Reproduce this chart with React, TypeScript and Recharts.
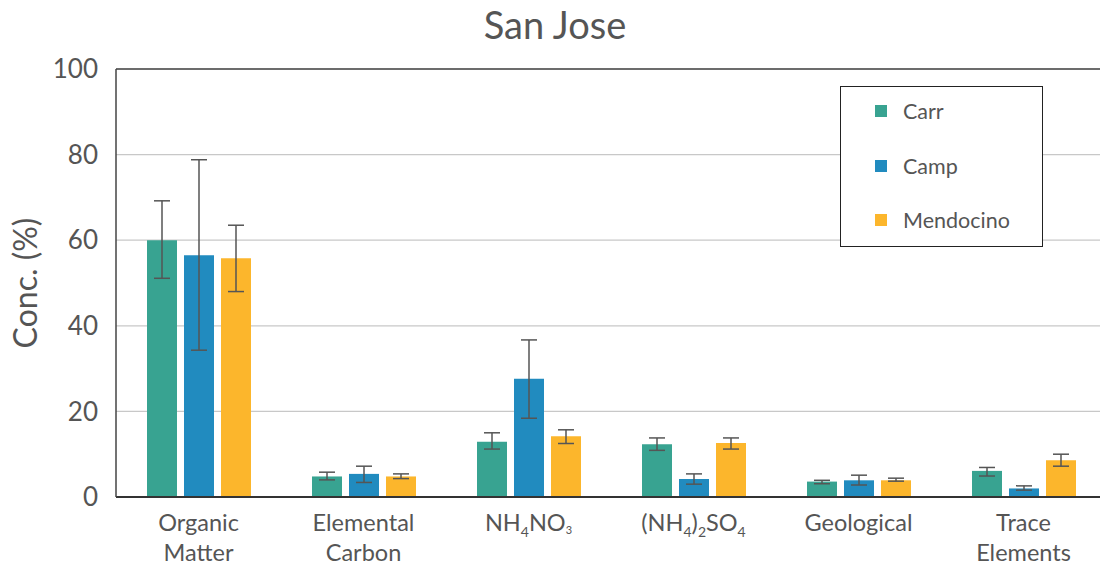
import { BarChart, Bar, XAxis, YAxis, CartesianGrid, ErrorBar, ReferenceLine } from 'recharts';

// categories (subscripts handled in the tick renderer)
const categories = ['Organic Matter', 'Elemental Carbon', 'NH4NO3', '(NH4)2SO4', 'Geological', 'Trace Elements'];

// bar heights
const carr = [60.0, 4.8, 12.9, 12.3, 3.6, 6.1];
const camp = [56.5, 5.4, 27.6, 4.2, 3.9, 2.0];
const mendocino = [55.8, 4.8, 14.2, 12.6, 3.9, 8.6];

// error bar ends (low, high)
const carrLow = [51.1, 4.0, 11.2, 10.9, 3.1, 4.9];
const carrHigh = [69.2, 5.8, 15.0, 13.8, 3.9, 6.9];
const campLow = [34.3, 3.4, 18.4, 3.0, 2.8, 1.6];
const campHigh = [78.8, 7.2, 36.7, 5.4, 5.1, 2.6];
const mendLow = [48.0, 4.3, 12.5, 11.2, 3.7, 7.2];
const mendHigh = [63.5, 5.4, 15.7, 13.8, 4.4, 10.0];

const yTicks = [0, 20, 40, 60, 80, 100];

const seriesNames = ['Carr', 'Camp', 'Mendocino'];
const COLORS = ['#38a391', '#218bbf', '#fcb62c'];
const TEXT = '#555555';
const FONT = 'Lato, "Open Sans", sans-serif';

const data = categories.map((name, i) => ({
  name,
  carr: carr[i],
  camp: camp[i],
  mend: mendocino[i],
  carrErr: [carr[i] - carrLow[i], carrHigh[i] - carr[i]],
  campErr: [camp[i] - campLow[i], campHigh[i] - camp[i]],
  mendErr: [mendocino[i] - mendLow[i], mendHigh[i] - mendocino[i]],
}));

// x tick with two lines / chemical subscripts
const XTick = ({ x, y, payload }: any) => {
  const v = payload.value;
  const common = { textAnchor: 'middle' as const, fill: TEXT, fontSize: 23.5, fontFamily: FONT };
  const ty = y + 26;
  if (v === 'NH4NO3') {
    return (
      <text x={x} y={ty} {...common}>
        <tspan>NH</tspan>
        <tspan fontSize={14} dy={6}>4</tspan>
        <tspan dy={-6}>NO</tspan>
        <tspan fontSize={11} dy={3}>3</tspan>
      </text>
    );
  }
  if (v === '(NH4)2SO4') {
    return (
      <text x={x} y={ty} {...common}>
        <tspan>(NH</tspan>
        <tspan fontSize={14} dy={6}>4</tspan>
        <tspan dy={-6}>)</tspan>
        <tspan fontSize={14} dy={6}>2</tspan>
        <tspan dy={-6}>SO</tspan>
        <tspan fontSize={14} dy={6}>4</tspan>
      </text>
    );
  }
  const parts = v.split(' ');
  return (
    <text x={x} y={ty} {...common}>
      {parts.map((p: string, i: number) => (
        <tspan key={i} x={x} dy={i === 0 ? 0 : 30}>{p}</tspan>
      ))}
    </text>
  );
};

const LegendBox = () => (
  <div style={{ position: 'absolute', left: 840, top: 86, width: 203, height: 161, border: '1.5px solid #222', boxSizing: 'border-box', background: '#fff', fontFamily: FONT }}>
    {seriesNames.map((label, i) => (
      <div key={label} style={{ position: 'absolute', left: 34, top: 11 + i * 54.5, display: 'flex', alignItems: 'center', height: 26 }}>
        <span style={{ display: 'inline-block', width: 12, height: 12, background: COLORS[i], marginRight: 16 }} />
        <span style={{ fontSize: 21.5, color: TEXT }}>{label}</span>
      </div>
    ))}
  </div>
);

export default function App() {
  return (
    <div style={{ position: 'absolute', left: 0, top: 0, width: 1100, height: 567, overflow: 'hidden', background: '#fff' }}>
      <div style={{ position: 'absolute', left: 0, top: 1, width: 1110, textAlign: 'center', fontFamily: FONT, fontSize: 38, color: TEXT }}>
        San Jose
      </div>
      <BarChart
        width={1106}
        height={567}
        data={data}
        margin={{ top: 69, right: 0, left: 0, bottom: 0 }}
        barCategoryGap={31}
        barGap={7}
      >
        <CartesianGrid vertical={false} stroke="#c8c8c8" strokeWidth={1.2} />
        <ReferenceLine y={100} stroke="#444" strokeWidth={1.5} />
        <XAxis
          dataKey="name"
          height={70}
          interval={0}
          tickLine={false}
          axisLine={{ stroke: '#333', strokeWidth: 2 }}
          tick={<XTick />}
        />
        <YAxis
          width={116}
          domain={[0, 100]}
          ticks={yTicks}
          tickLine={false}
          axisLine={{ stroke: '#444', strokeWidth: 1.5 }}
          tick={{ fill: TEXT, fontSize: 26, fontFamily: FONT }}
          tickMargin={12}
          label={{ value: 'Conc. (%)', angle: -90, position: 'insideLeft', offset: 26, style: { fill: TEXT, fontSize: 32, fontFamily: FONT, textAnchor: 'middle' } }}
        />
        <Bar dataKey="carr" name={seriesNames[0]} fill={COLORS[0]} isAnimationActive={false}>
          <ErrorBar dataKey="carrErr" width={8} stroke="#555" strokeWidth={1.5} direction="y" />
        </Bar>
        <Bar dataKey="camp" name={seriesNames[1]} fill={COLORS[1]} isAnimationActive={false}>
          <ErrorBar dataKey="campErr" width={8} stroke="#555" strokeWidth={1.5} direction="y" />
        </Bar>
        <Bar dataKey="mend" name={seriesNames[2]} fill={COLORS[2]} isAnimationActive={false}>
          <ErrorBar dataKey="mendErr" width={8} stroke="#555" strokeWidth={1.5} direction="y" />
        </Bar>
      </BarChart>
      <LegendBox />
    </div>
  );
}
